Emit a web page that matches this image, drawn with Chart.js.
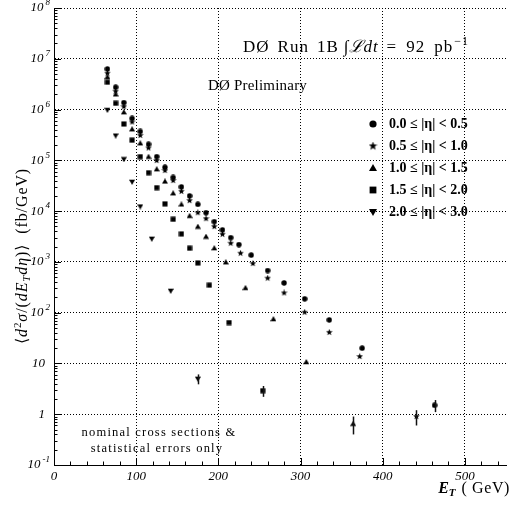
<!DOCTYPE html>
<html>
<head>
<meta charset="utf-8">
<script src="https://cdn.jsdelivr.net/npm/chart.js@4.4.0/dist/chart.umd.min.js"></script>
<style>body{margin:0;background:#fff}canvas{display:block}</style>
</head>
<body>
<canvas id="chart" width="511" height="508"></canvas>
<script>
// --- DATA (E_T bin centres in GeV, cross sections in fb/GeV) ---
const etEta1 = [65,75,85,95,105,115,125,135,145,155,165,175,185,195,205,215,225,240,260,280,305,335,375,463];
const xsEta1 = [6.3e6,2.75e6,1.37e6,6.7e5,3.7e5,2.07e5,1.18e5,7.3e4,4.6e4,3.0e4,1.99e4,1.36e4,9.3e3,6.2e3,4.27e3,3.0e3,2.19e3,1.36e3,675,386,187,72,20,1.5];
const errEta1 = [0,0,0,0,0,0,0,0,0,0,0,0,0,0,0,0,0,0,0,0,0,0,0,0.4];

const etEta2 = [65,75,85,95,105,115,125,135,145,155,165,175,185,195,205,215,227,242,260,280,305,335,372,441];
const xsEta2 = [5.2e6,2.3e6,1.14e6,5.7e5,3.1e5,1.75e5,9.9e4,6.3e4,4.0e4,2.45e4,1.61e4,9.3e3,7.1e3,4.95e3,3.5e3,2.33e3,1.48e3,927,478,245,102,41,13.7,0.9];
const errEta2 = [0,0,0,0,0,0,0,0,0,0,0,0,0,0,0,0,0,0,0,0,0,0,0,0.3];

const etEta3 = [65,75,85,95,105,115,125,135,145,155,165,175,185,195,209,233,267,307,364];
const xsEta3 = [4.4e6,2.0e6,8.9e5,4.1e5,2.17e5,1.18e5,6.7e4,3.85e4,2.25e4,1.36e4,8.1e3,4.95e3,3.15e3,1.87e3,986,308,75,10.7,0.65];
const errEta3 = [0,0,0,0,0,0,0,0,0,0,0,0,0,0,0,0,0,0,0.25];

const etEta4 = [65,75,85,95,105,115,125,135,145,155,165,175,189,213,254];
const xsEta4 = [3.45e6,1.33e6,5.2e5,2.5e5,1.18e5,5.7e4,2.9e4,1.39e4,6.9e3,3.56e3,1.86e3,955,348,64,2.9];
const errEta4 = [0,0,0,0,0,0,0,0,0,0,0,0,0,0,0.7];

const etEta5 = [65,75,85,95,105,119,142,175];
const xsEta5 = [9.8e5,3.06e5,1.05e5,3.76e4,1.23e4,2.84e3,268,4.98];
const errEta5 = [0,0,0,0,0,0,0,1.1];

const etaLabels = ["0.0 \u2264 |\u03b7| < 0.5","0.5 \u2264 |\u03b7| < 1.0","1.0 \u2264 |\u03b7| < 1.5","1.5 \u2264 |\u03b7| < 2.0","2.0 \u2264 |\u03b7| < 3.0"];
const xTicks = [0,100,200,300,400,500];
const yDecades = [-1,0,1,2,3,4,5,6,7,8];

const SERIF = '"Liberation Serif", "DejaVu Serif", serif';

// --- MARKERS ---
function marker(kind, size) {
    const c = document.createElement('canvas');
    c.width = c.height = size;
    const g = c.getContext('2d');
    const m = size / 2, r = size / 2;
    g.fillStyle = '#000';
    g.beginPath();
    if (kind === 'circle') {
        g.arc(m, m, r * 0.9, 0, Math.PI * 2);
    } else if (kind === 'square') {
        g.rect(m - r * 0.85, m - r * 0.85, r * 1.7, r * 1.7);
    } else if (kind === 'tri') {
        g.moveTo(m, m - r); g.lineTo(m + r, m + r * 0.75); g.lineTo(m - r, m + r * 0.75);
    } else if (kind === 'dtri') {
        g.moveTo(m, m + r); g.lineTo(m + r, m - r * 0.75); g.lineTo(m - r, m - r * 0.75);
    } else if (kind === 'star') {
        for (let i = 0; i < 10; i++) {
            const a = -Math.PI / 2 + i * Math.PI / 5;
            const rr = i % 2 ? r * 0.42 : r;
            g.lineTo(m + rr * Math.cos(a), m + rr * Math.sin(a));
        }
    }
    g.closePath();
    g.fill();
    return c;
}
const kinds = ['circle','star','tri','square','dtri'];
const pointMarks = kinds.map(k => marker(k, k === 'star' ? 7 : 6));
const legendMarks = kinds.map(k => marker(k, k === 'star' ? 9 : 8));

const series = [
    [etEta1, xsEta1, errEta1],
    [etEta2, xsEta2, errEta2],
    [etEta3, xsEta3, errEta3],
    [etEta4, xsEta4, errEta4],
    [etEta5, xsEta5, errEta5]
];

const datasets = series.map((s, i) => ({
    label: etaLabels[i],
    data: s[0].map((e, j) => ({ x: e, y: s[1][j] })),
    showLine: false,
    pointStyle: pointMarks[i],
    pointRadius: 3,
    backgroundColor: '#000',
    borderColor: '#000'
}));

// --- TEXT HELPERS ---
function segWidth(ctx, s) {
    ctx.font = s.f;
    ctx.letterSpacing = s.ls || '0px';
    return ctx.measureText(s.t).width + (s.gap || 0);
}
function drawRich(ctx, x, y, segs, align) {
    let w = 0;
    segs.forEach(s => { w += segWidth(ctx, s); });
    let cx = align === 'center' ? x - w / 2 : align === 'right' ? x - w : x;
    segs.forEach(s => {
        const sw = segWidth(ctx, s);
        ctx.fillText(s.t, cx, y + (s.dy || 0));
        cx += sw;
    });
    ctx.letterSpacing = '0px';
}

// --- PLUGIN: error bars, minor ticks, labels ---
const decor = {
    id: 'decor',
    afterDatasetsDraw(chart) {
        const ctx = chart.ctx, xs = chart.scales.x, ys = chart.scales.y;
        ctx.save();
        ctx.strokeStyle = '#111';
        ctx.lineWidth = 1.5;
        series.forEach(s => {
            s[2].forEach((e, j) => {
                if (!e) return;
                const px = Math.round(xs.getPixelForValue(s[0][j])) + 0.5;
                ctx.beginPath();
                ctx.moveTo(px, ys.getPixelForValue(s[1][j] - e));
                ctx.lineTo(px, ys.getPixelForValue(s[1][j] + e));
                ctx.stroke();
            });
        });
        ctx.restore();
    },
    afterDraw(chart) {
        const ctx = chart.ctx, xs = chart.scales.x, ys = chart.scales.y;
        const a = chart.chartArea;
        ctx.save();
        ctx.strokeStyle = '#000';
        ctx.lineWidth = 1;
        // y ticks (log minor)
        ctx.beginPath();
        for (let d = -1; d < 8; d++) {
            for (let k = 1; k <= 9; k++) {
                const py = Math.round(ys.getPixelForValue(k * Math.pow(10, d))) + 0.5;
                const len = k === 1 ? 7 : 3.5;
                ctx.moveTo(a.left, py); ctx.lineTo(a.left + len, py);
            }
        }
        const pt = Math.round(ys.getPixelForValue(1e8)) + 0.5;
        ctx.moveTo(a.left, pt); ctx.lineTo(a.left + 7, pt);
        // x ticks
        for (let v = 0; v <= 540; v += 20) {
            const px = Math.round(xs.getPixelForValue(v)) + 0.5;
            const len = v % 100 === 0 ? 7 : 3.5;
            ctx.moveTo(px, a.bottom); ctx.lineTo(px, a.bottom - len);
        }
        ctx.stroke();

        ctx.fillStyle = '#000';
        // y tick labels
        ctx.textBaseline = 'middle';
        const base = 'italic 13px ' + SERIF, sup = 'italic 9px ' + SERIF;
        yDecades.forEach(d => {
            const py = ys.getPixelForValue(Math.pow(10, d));
            if (d === 0) drawRich(ctx, 45, py, [{ t: '1', f: base }], 'right');
            else if (d === 1) drawRich(ctx, 45, py, [{ t: '10', f: base }], 'right');
            else drawRich(ctx, 50, py, [{ t: '10', f: base, gap: 2 }, { t: String(d), f: sup, dy: -5 }], 'right');
        });
        // x tick labels
        xTicks.forEach(v => {
            drawRich(ctx, xs.getPixelForValue(v), 477, [{ t: String(v), f: base }], 'center');
        });

        // x title
        ctx.textBaseline = 'alphabetic';
        drawRich(ctx, 510, 493, [
            { t: 'E', f: 'italic bold 16px ' + SERIF },
            { t: 'T', f: 'italic bold 11px ' + SERIF, dy: 3, gap: 6 },
            { t: '( GeV)', f: '16px ' + SERIF, ls: '0.6px' }
        ], 'right');

        // y title
        ctx.save();
        ctx.translate(27, 256);
        ctx.rotate(-Math.PI / 2);
        const r16 = '16px ' + SERIF, i16 = 'italic 16px ' + SERIF, i11 = 'italic 11px ' + SERIF;
        const ls = '0.9px';
        drawRich(ctx, 0, 0, [
            { t: '\u27e8', f: r16, ls },
            { t: 'd', f: i16, ls },
            { t: '2', f: '11px ' + SERIF, dy: -6, ls },
            { t: '\u03c3', f: i16, ls },
            { t: '/', f: r16, ls },
            { t: '(', f: r16, ls },
            { t: 'dE', f: i16, ls },
            { t: 'T', f: i11, dy: 3, ls },
            { t: 'd\u03b7', f: i16, ls },
            { t: ')\u27e9  (fb/GeV)', f: r16, ls }
        ], 'center');
        ctx.restore();

        // header texts
        const h = '17px ' + SERIF, hi = 'italic 17px ' + SERIF;
        drawRich(ctx, 243, 52, [
            { t: 'D\u00d8', f: h, ls: '1px', gap: 8 },
            { t: 'Run', f: h, ls: '1px', gap: 8 },
            { t: '1B', f: h, ls: '1px', gap: 5 },
            { t: '\u222b', f: h, gap: 1 },
            { t: '\u2112', f: hi },
            { t: 'dt', f: hi, ls: '1px', gap: 8 },
            { t: '=', f: h, gap: 10 },
            { t: '92', f: h, ls: '1px', gap: 9 },
            { t: 'pb', f: h, ls: '1px', gap: 1 },
            { t: '\u22121', f: '12px ' + SERIF, dy: -7, ls: '1px' }
        ], 'left');
        drawRich(ctx, 208, 90, [{ t: 'D\u00d8 Preliminary', f: '15px ' + SERIF, ls: '0.2px' }], 'left');

        // legend
        ctx.textBaseline = 'middle';
        etaLabels.forEach((lab, i) => {
            const ly = 124 + i * 22;
            const m = legendMarks[i];
            ctx.drawImage(m, 373 - m.width / 2, ly - m.height / 2);
            drawRich(ctx, 389, ly, [{ t: lab, f: 'bold 14px ' + SERIF }], 'left');
        });

        // note
        ctx.textBaseline = 'alphabetic';
        drawRich(ctx, 159, 436, [{ t: 'nominal cross sections &', f: '12.5px ' + SERIF, ls: '1.2px' }], 'center');
        drawRich(ctx, 157, 452, [{ t: 'statistical errors only', f: '12.5px ' + SERIF, ls: '1.2px' }], 'center');
        ctx.restore();
    }
};

const ctx = document.getElementById('chart').getContext('2d');
new Chart(ctx, {
    type: 'scatter',
    data: { datasets },
    plugins: [decor],
    options: {
        responsive: false,
        animation: false,
        layout: { padding: { left: 54, top: 8, right: 1, bottom: 43 } },
        plugins: { legend: { display: false }, tooltip: { enabled: false } },
        scales: {
            x: {
                type: 'linear', min: 0, max: 550,
                afterBuildTicks: s => { s.ticks = xTicks.map(v => ({ value: v })); },
                afterFit: s => { s.height = 0; },
                ticks: { display: false },
                grid: { color: '#000', lineWidth: 1, drawTicks: false },
                border: { display: true, color: '#000', width: 1, dash: [1, 2] }
            },
            y: {
                type: 'logarithmic', min: 0.1, max: 1e8,
                afterBuildTicks: s => { s.ticks = yDecades.map(d => ({ value: Math.pow(10, d) })); },
                afterFit: s => { s.width = 0; },
                ticks: { display: false },
                grid: { color: '#000', lineWidth: 1, drawTicks: false },
                border: { display: true, color: '#000', width: 1, dash: [1, 2] }
            }
        }
    }
});
</script>
</body>
</html>
